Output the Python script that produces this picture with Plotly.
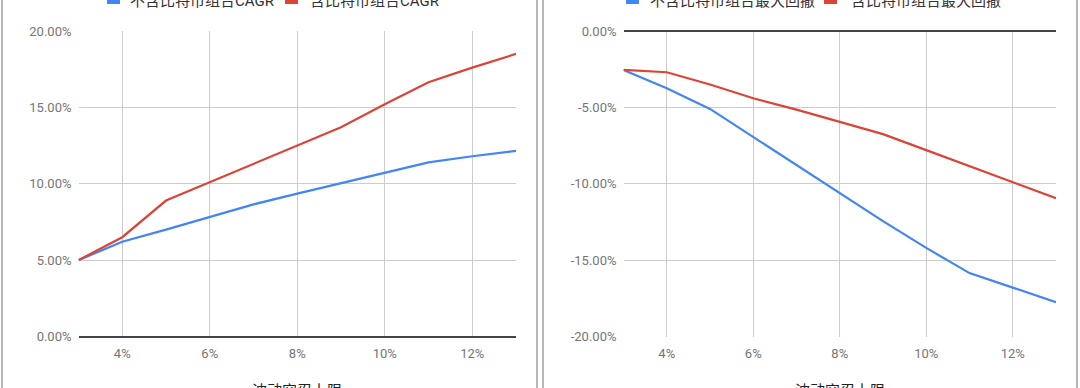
import plotly.graph_objects as go

# Data (percent units)
vol_limit = [3, 4, 5, 6, 7, 8, 9, 10, 11, 12, 13]
cagr_no_btc = [5.0, 6.2, 7.0, 7.85, 8.65, 9.35, 10.05, 10.75, 11.4, 11.8, 12.15]
cagr_btc = [5.0, 6.5, 8.9, 10.1, 11.3, 12.5, 13.7, 15.2, 16.65, 17.6, 18.5]
dd_no_btc = [-2.55, -3.75, -5.1, -6.95, -8.8, -10.65, -12.45, -14.2, -15.85, -16.8, -17.75]
dd_btc = [-2.55, -2.7, -3.5, -4.4, -5.15, -5.95, -6.75, -7.8, -8.85, -9.9, -10.95]

x_ticks = [4, 6, 8, 10, 12]
x_ticklabels = ["4%", "6%", "8%", "10%", "12%"]
left_yticks = [0, 5, 10, 15, 20]
left_yticklabels = ["0.00%", "5.00%", "10.00%", "15.00%", "20.00%"]
right_yticks = [0, -5, -10, -15, -20]
right_yticklabels = ["0.00%", "-5.00%", "-10.00%", "-15.00%", "-20.00%"]

names_left = ["不含比特币组合CAGR", "含比特币组合CAGR"]
names_right = ["不含比特币组合最大回撤", "含比特币组合最大回撤"]
x_title = "波动容忍上限"

BLUE = "#4285F4"
RED = "#DB4437"
W, H = 1080, 388

fig = go.Figure()
fig.add_trace(go.Scatter(x=vol_limit, y=cagr_no_btc, mode="lines", name=names_left[0],
                         line=dict(color=BLUE, width=2.2), xaxis="x", yaxis="y", showlegend=False))
fig.add_trace(go.Scatter(x=vol_limit, y=cagr_btc, mode="lines", name=names_left[1],
                         line=dict(color=RED, width=2.2), xaxis="x", yaxis="y", showlegend=False))
fig.add_trace(go.Scatter(x=vol_limit, y=dd_no_btc, mode="lines", name=names_right[0],
                         line=dict(color=BLUE, width=2.2), xaxis="x2", yaxis="y2", showlegend=False))
fig.add_trace(go.Scatter(x=vol_limit, y=dd_btc, mode="lines", name=names_right[1],
                         line=dict(color=RED, width=2.2), xaxis="x2", yaxis="y2", showlegend=False))

ydom = [1 - 336.5 / H, 1 - 31 / H]
font_main = "Roboto, 'Noto Sans CJK SC', sans-serif"
tickfont = dict(family=font_main, size=13, color="#757575")

xcommon = dict(range=[3, 13], tickmode="array", tickvals=x_ticks, ticktext=x_ticklabels,
               showgrid=True, gridcolor="#cccccc", gridwidth=1, zeroline=False, showline=False,
               ticks="", tickfont=tickfont, ticklabelstandoff=7, fixedrange=True)
ycommon = dict(showgrid=True, gridcolor="#cccccc", gridwidth=1, zeroline=True,
               zerolinecolor="#444444", zerolinewidth=1.5, showline=False, ticks="",
               tickmode="array", tickfont=tickfont, ticklabelstandoff=6, fixedrange=True)

fig.update_layout(
    width=W, height=H,
    margin=dict(l=0, r=0, t=0, b=0, autoexpand=False),
    paper_bgcolor="white", plot_bgcolor="white",
    font=dict(family=font_main),
    xaxis=dict(domain=[78.5 / W, 516 / W], anchor="y", **xcommon),
    xaxis2=dict(domain=[623.5 / W, 1056 / W], anchor="y2", **xcommon),
    yaxis=dict(domain=ydom, anchor="x", range=[0, 20], tickvals=left_yticks,
               ticktext=left_yticklabels, **ycommon),
    yaxis2=dict(domain=ydom, anchor="x2", range=[-20, 0], tickvals=right_yticks,
                ticktext=right_yticklabels, **ycommon),
    showlegend=False,
)

shapes = []
annotations = []
# panel borders
for x0, x1 in [(2, 537), (543, 1077)]:
    shapes.append(dict(type="rect", xref="paper", yref="paper", x0=x0 / W, x1=x1 / W,
                       y0=-0.05, y1=1.05, line=dict(color="#a0a0a0", width=1.5),
                       fillcolor="rgba(0,0,0,0)", layer="below"))

# manual legends
legend_items = [
    (107, 130, BLUE, names_left[0]),
    (285, 310, RED, names_left[1]),
    (626, 650, BLUE, names_right[0]),
    (824, 851, RED, names_right[1]),
]
for sx, tx, col, txt in legend_items:
    shapes.append(dict(type="rect", xref="paper", yref="paper", x0=sx / W, x1=(sx + 13) / W,
                       y0=1 - 4 / H, y1=1 + 9 / H, line=dict(width=0), fillcolor=col))
    annotations.append(dict(text=txt, xref="paper", yref="paper", x=(tx - 2) / W, y=1 - 1 / H,
                            xanchor="left", yanchor="middle", showarrow=False,
                            font=dict(family=font_main, size=15, color="#333333")))

# x axis titles
for cx in [(78.5 + 516) / 2, (623.5 + 1056) / 2]:
    annotations.append(dict(text=x_title, xref="paper", yref="paper", x=cx / W, y=1 - 391 / H,
                            xanchor="center", yanchor="middle", showarrow=False,
                            font=dict(family=font_main, size=15, color="#222222")))

fig.update_layout(shapes=shapes, annotations=annotations)
fig.write_html("out.html", config={"displayModeBar": False},
               post_script="document.body.style.margin='0';document.body.style.overflow='hidden';")
